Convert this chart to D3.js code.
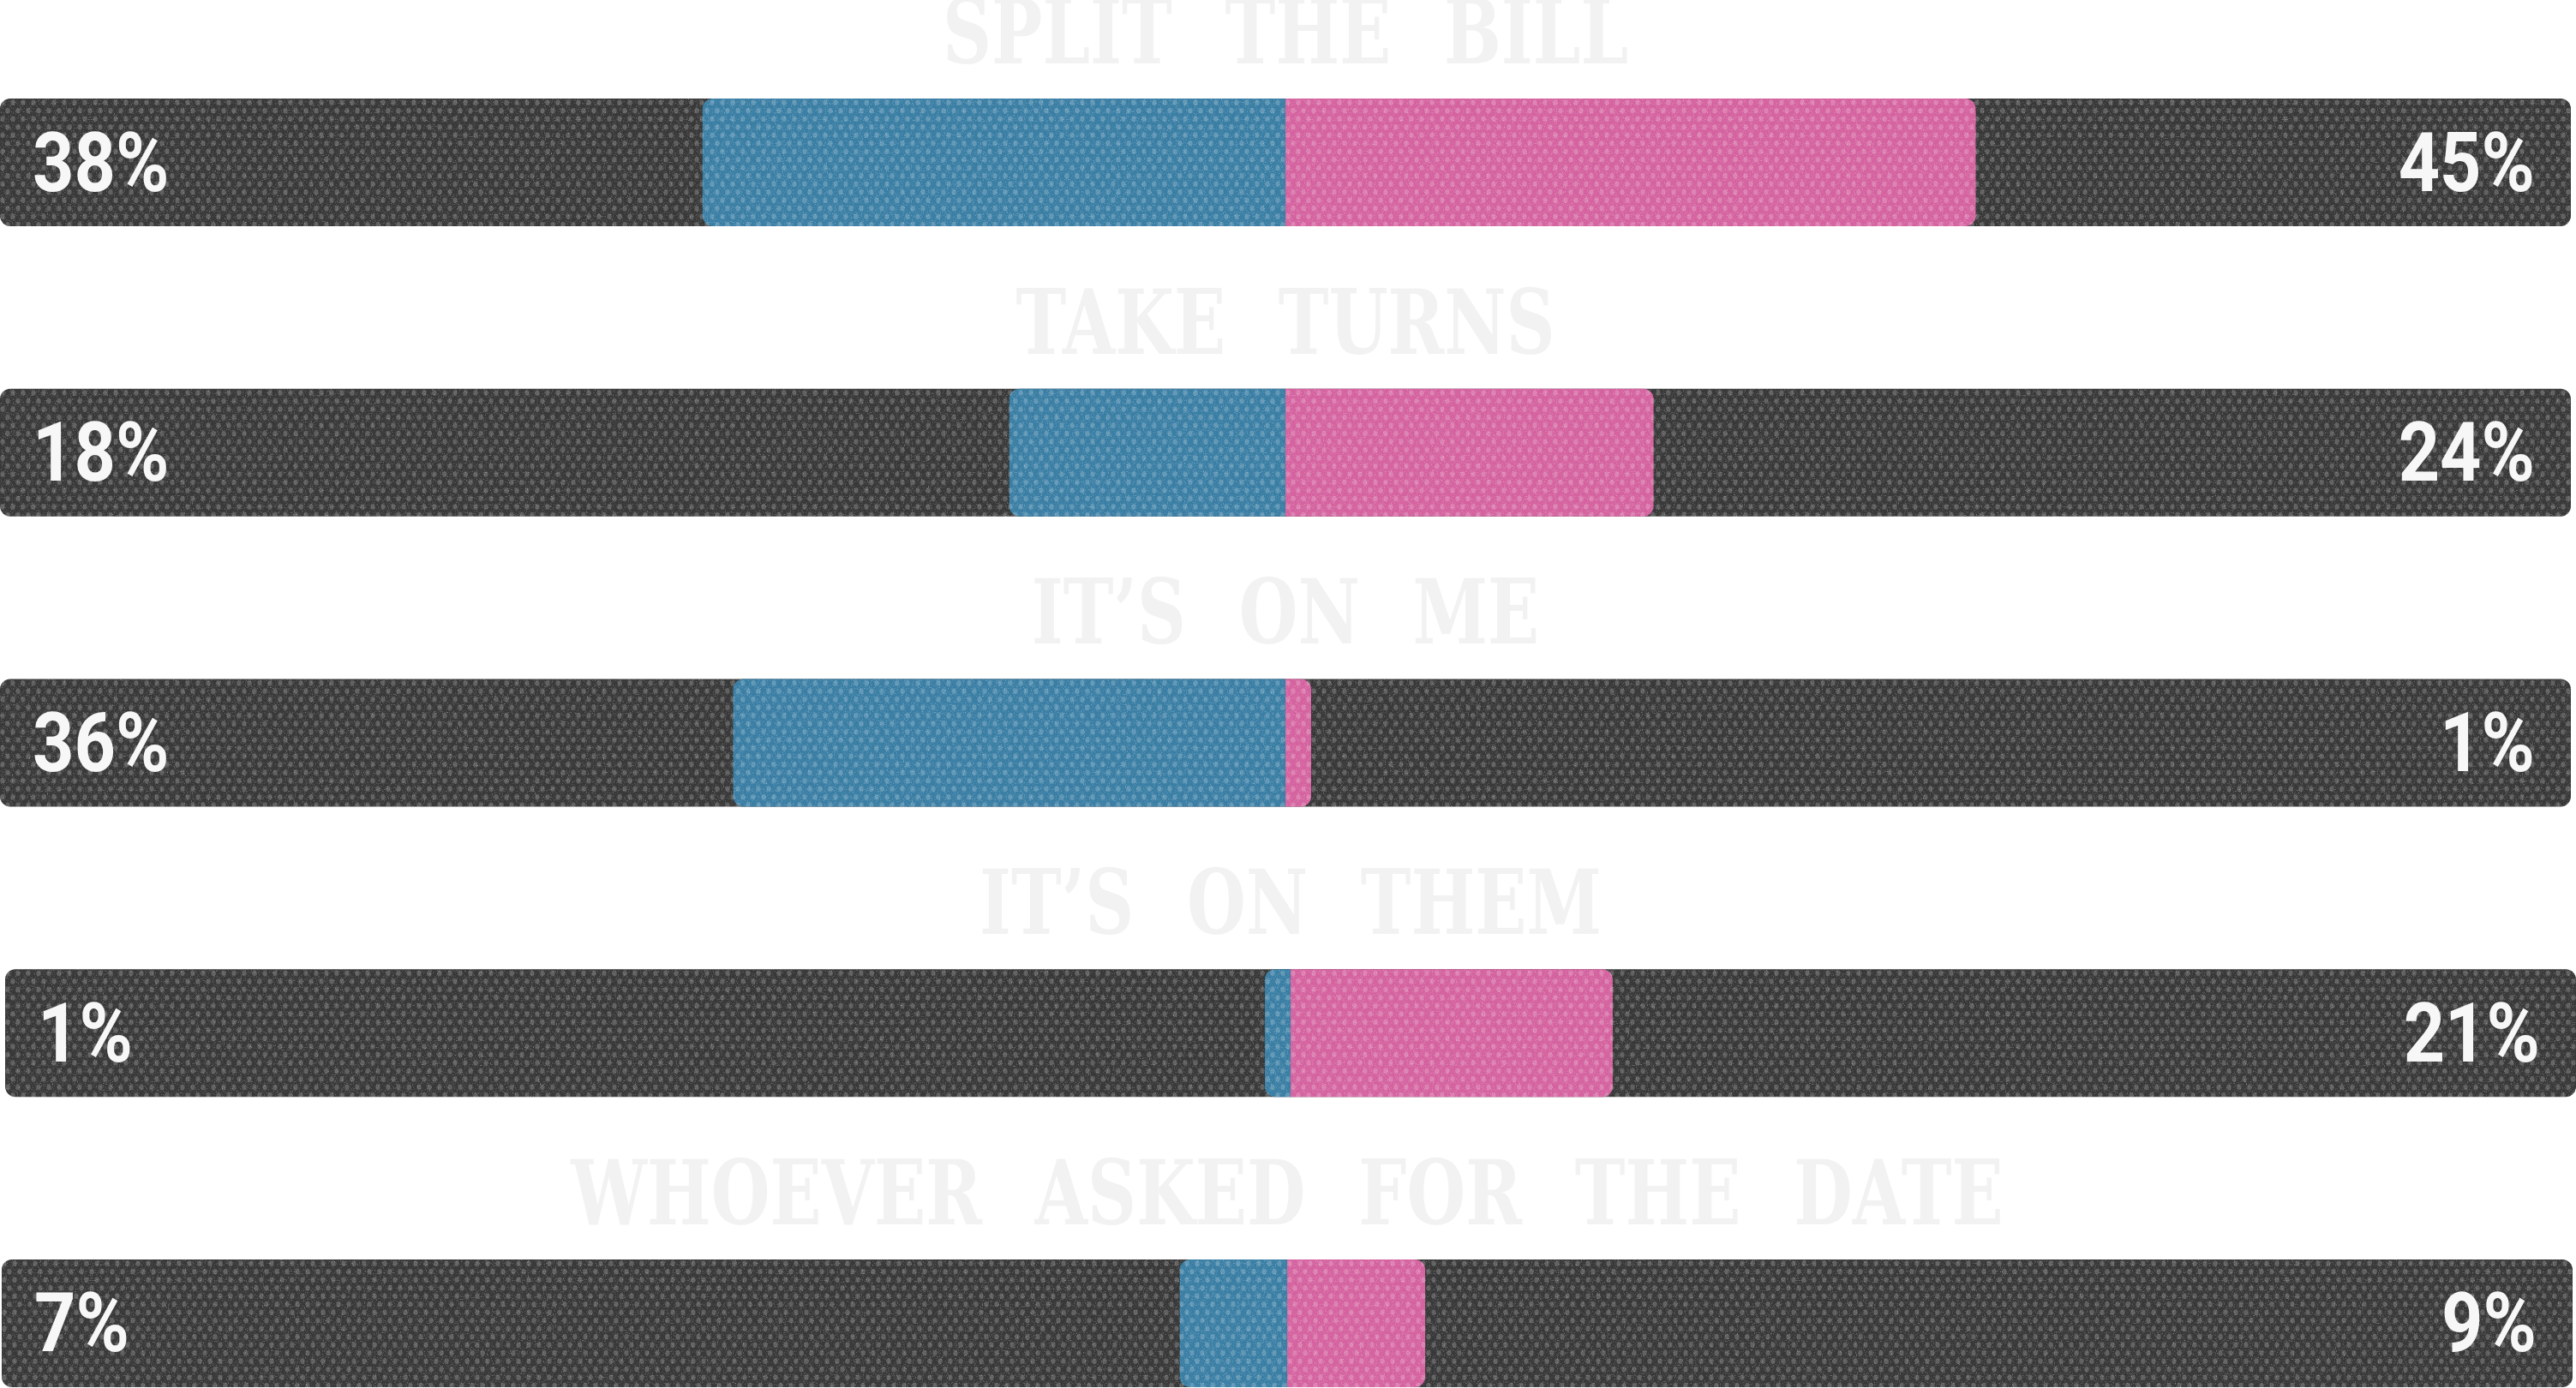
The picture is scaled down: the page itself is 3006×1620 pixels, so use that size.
<!DOCTYPE html>
<html>
<head>
<meta charset="utf-8">
<script src="https://cdn.jsdelivr.net/npm/d3@7"></script>
<style>
  html, body { margin: 0; padding: 0; background: #fff; overflow: hidden; }
</style>
</head>
<body>
<script>
// who pays on a date - blue vs pink answers
const categories = ['SPLIT THE BILL', 'TAKE TURNS', 'IT\u2019S ON ME', 'IT\u2019S ON THEM', 'WHOEVER ASKED FOR THE DATE'];
const blueValues = [38, 18, 36, 1, 7];
const pinkValues = [45, 24, 1, 21, 9];

const w = 3006, h = 1620;
const barW = 3000, cx = 1500, r = 12, minW = 30;
const rowNudge = [0, 0, 0, 6, 2]; // the rows are not quite aligned in the original

const svg = d3.select('body')
    .append('svg')
    .attr('width', w)
    .attr('height', h)

const defs = svg.append('defs')

// knit dots
const pat = defs.append('pattern')
    .attr('id', 'knit')
    .attr('patternUnits', 'userSpaceOnUse')
    .attr('width', 12)
    .attr('height', 19)
pat.append('ellipse').attr('cx', 3).attr('cy', 4.75).attr('rx', 2.6).attr('ry', 3.2)
    .attr('fill', '#fff').attr('fill-opacity', 0.2)
pat.append('ellipse').attr('cx', 9).attr('cy', 14.25).attr('rx', 2.6).attr('ry', 3.2)
    .attr('fill', '#fff').attr('fill-opacity', 0.2)

// speckle noise
const f = defs.append('filter')
    .attr('id', 'speckle')
    .attr('x', 0).attr('y', 0).attr('width', 1).attr('height', 1)
f.append('feTurbulence')
    .attr('type', 'fractalNoise')
    .attr('baseFrequency', 0.9)
    .attr('numOctaves', 2)
    .attr('seed', 4)
    .attr('result', 'noise')
f.append('feColorMatrix')
    .attr('in', 'noise')
    .attr('type', 'matrix')
    .attr('values', '0 0 0 0 1  0 0 0 0 1  0 0 0 0 1  3.2 0 0 0 -1.75')
    .attr('result', 'dots')
f.append('feComposite')
    .attr('in', 'dots')
    .attr('in2', 'SourceGraphic')
    .attr('operator', 'in')

const x = d3.scaleLinear()
    .domain([0, 100])
    .range([0, 1790])

const y = d3.scaleBand()
    .domain(categories)
    .range([115, 1619])
    .paddingInner(0.56)
    .paddingOuter(0)

const bh = y.bandwidth()

// rect with only one side rounded
function halfRound(x0, y0, wd, ht, rr, side) {
    const p = d3.path()
    if (side === 'left') {
        p.moveTo(x0 + wd, y0)
        p.lineTo(x0 + rr, y0)
        p.arcTo(x0, y0, x0, y0 + rr, rr)
        p.lineTo(x0, y0 + ht - rr)
        p.arcTo(x0, y0 + ht, x0 + rr, y0 + ht, rr)
        p.lineTo(x0 + wd, y0 + ht)
    } else {
        p.moveTo(x0, y0)
        p.lineTo(x0 + wd - rr, y0)
        p.arcTo(x0 + wd, y0, x0 + wd, y0 + rr, rr)
        p.lineTo(x0 + wd, y0 + ht - rr)
        p.arcTo(x0 + wd, y0 + ht, x0 + wd - rr, y0 + ht, rr)
        p.lineTo(x0, y0 + ht)
    }
    p.closePath()
    return p.toString()
}

const rows = svg.selectAll('g.row')
    .data(categories)
    .enter()
    .append('g')
    .attr('class', 'row')
    .attr('transform', (d, i) => `translate(${rowNudge[i]},${y(d)})`)

// category title, sits above the bar (squeezed, the original face is condensed)
rows.append('text')
    .attr('transform', `translate(${cx},-41) scale(0.76,1)`)
    .attr('text-anchor', 'middle')
    .attr('font-family', '"DejaVu Serif", serif')
    .attr('font-weight', 'bold')
    .attr('font-size', 104)
    .attr('word-spacing', 45)
    .attr('fill', '#f2f2f2')
    .text(d => d)

rows.append('rect')
    .attr('x', 0).attr('y', 0)
    .attr('width', barW).attr('height', bh)
    .attr('rx', r)
    .attr('fill', '#383838')

rows.append('path')
    .attr('d', (d, i) => {
        const bw = Math.max(x(blueValues[i]), minW)
        return halfRound(cx - bw, 0, bw, bh, r, 'left')
    })
    .attr('fill', '#3a7ea4')

rows.append('path')
    .attr('d', (d, i) => {
        const pw = Math.max(x(pinkValues[i]), minW)
        return halfRound(cx, 0, pw, bh, r, 'right')
    })
    .attr('fill', '#d4629f')

// texture on top of everything in the bar
rows.append('rect')
    .attr('width', barW).attr('height', bh)
    .attr('rx', r)
    .attr('fill', 'url(#knit)')

rows.append('rect')
    .attr('width', barW).attr('height', bh)
    .attr('rx', r)
    .attr('fill', '#fff')
    .attr('filter', 'url(#speckle)')
    .attr('opacity', 0.35)

const labelFont = 'Roboto, "DejaVu Sans", sans-serif'
const base = bh / 2 + 33

rows.append('text')
    .attr('transform', `translate(38,${base}) scale(0.88,1)`)
    .attr('font-family', labelFont)
    .attr('font-weight', 'bold')
    .attr('font-size', 96)
    .attr('fill', '#f7f7f7')
    .text((d, i) => blueValues[i] + '%')

rows.append('text')
    .attr('transform', `translate(${barW - 42},${base}) scale(0.88,1)`)
    .attr('text-anchor', 'end')
    .attr('font-family', labelFont)
    .attr('font-weight', 'bold')
    .attr('font-size', 96)
    .attr('fill', '#f7f7f7')
    .text((d, i) => pinkValues[i] + '%')
</script>
</body>
</html>
